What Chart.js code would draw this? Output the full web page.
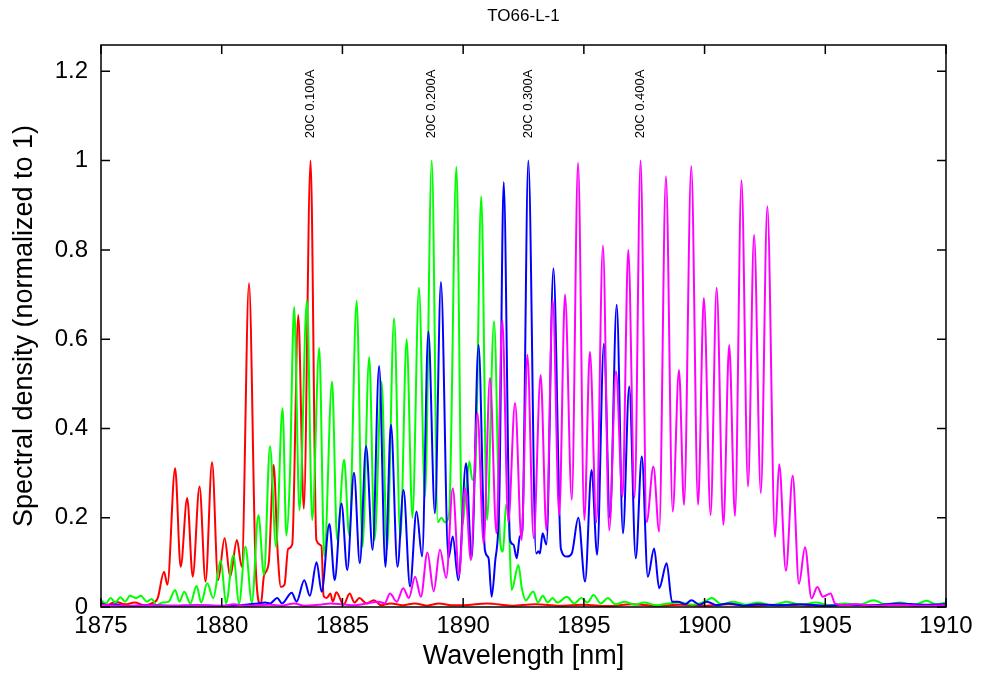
<!DOCTYPE html>
<html>
<head>
<meta charset="utf-8">
<script src="https://cdn.jsdelivr.net/npm/chart.js@4.4.0/dist/chart.umd.min.js"></script>
<style>
  body { margin: 0; background: #fff; }
  #wrap { width: 986px; height: 677px; }
</style>
</head>
<body>
<div id="wrap"><canvas id="chart" width="986" height="677"></canvas></div>
<script>
// Spectra of TO66-L-1 at 20C for four drive currents

const chartTitle = 'TO66-L-1';
const xTicks = [1875, 1880, 1885, 1890, 1895, 1900, 1905, 1910];
const yTicks = [0, 0.2, 0.4, 0.6, 0.8, 1, 1.2];

// peak labels: text and wavelength of the strongest mode
const peakLabels = ['20C 0.100A', '20C 0.200A', '20C 0.300A', '20C 0.400A'];
const peakNm = [1883.68, 1888.68, 1892.7, 1897.35];
const labelLevel = 1.05;

// 0.100 A (red)
const redNm = [1875.0, 1875.3, 1875.6, 1876.0, 1876.4, 1876.8, 1877.1, 1877.35, 1877.61, 1877.75,
  1878.07, 1878.3, 1878.57, 1878.8, 1879.08, 1879.33, 1879.6, 1879.85, 1880.12, 1880.35,
  1880.63, 1880.83, 1881.13, 1881.4, 1881.62, 1881.75, 1881.95, 1882.15, 1882.32, 1882.45,
  1882.6, 1882.75, 1882.92, 1883.17, 1883.4, 1883.68, 1883.92, 1884.13, 1884.22, 1884.35,
  1884.5, 1884.6, 1884.75, 1885.05, 1885.3, 1885.5, 1885.7, 1886.0, 1886.3, 1886.6,
  1887.0, 1887.5, 1888.0, 1888.5, 1889.0, 1889.5, 1890.0, 1891.0, 1892.0, 1893.0,
  1894.0, 1895.0, 1896.0, 1897.0, 1898.0, 1899.0, 1900.0, 1901.0, 1902.0, 1903.0,
  1904.0, 1905.0, 1906.0, 1907.0, 1908.0, 1909.0, 1910.0];
const redVal = [0.012, 0.005, 0.012, 0.006, 0.010, 0.004, 0.008, 0.02, 0.079, 0.05,
  0.311, 0.09, 0.244, 0.068, 0.27, 0.057, 0.324, 0.06, 0.154, 0.068,
  0.15, 0.09, 0.725, 0.1, 0.005, 0.07, 0.1, 0.318, 0.12, 0.045,
  0.05, 0.13, 0.14, 0.654, 0.22, 1.0, 0.15, 0.137, 0.025, 0.02,
  0.03, 0.012, 0.033, 0.005, 0.03, 0.01, 0.02, 0.008, 0.015, 0.004,
  0.008, 0.004, 0.008, 0.003, 0.008, 0.004, 0.004, 0.008, 0.003, 0.006,
  0.003, 0.005, 0.002, 0.006, 0.003, 0.005, 0.003, 0.006, 0.003, 0.005,
  0.004, 0.003, 0.006, 0.003, 0.005, 0.004, 0.006];

// 0.200 A (green)
const greenNm = [1875.0, 1875.2, 1875.4, 1875.6, 1875.8, 1876.0, 1876.2, 1876.45, 1876.65, 1876.9,
  1877.1, 1877.3, 1877.55, 1877.8, 1878.07, 1878.25, 1878.45, 1878.7, 1878.96, 1879.15,
  1879.4, 1879.65, 1879.96, 1880.18, 1880.48, 1880.72, 1880.98, 1881.25, 1881.52, 1881.75,
  1882.0, 1882.25, 1882.52, 1882.68, 1882.82, 1883.0, 1883.22, 1883.53, 1883.75, 1884.04,
  1884.25, 1884.57, 1884.78, 1885.07, 1885.28, 1885.59, 1885.83, 1886.11, 1886.33, 1886.62,
  1886.85, 1887.14, 1887.4, 1887.66, 1887.9, 1888.17, 1888.42, 1888.7, 1888.95, 1889.1,
  1889.25, 1889.42, 1889.72, 1889.96, 1890.1, 1890.26, 1890.38, 1890.5, 1890.75, 1890.99,
  1891.28, 1891.53, 1891.65, 1891.78, 1891.88, 1892.01, 1892.29, 1892.43, 1892.6, 1892.9,
  1893.1, 1893.3, 1893.5, 1893.7, 1893.9, 1894.3, 1894.6, 1894.9, 1895.15, 1895.4,
  1895.7, 1896.0, 1896.3, 1896.7, 1897.1, 1897.5, 1898.0, 1898.5, 1899.0, 1899.5,
  1900.0, 1900.3, 1900.7, 1901.2, 1901.7, 1902.2, 1902.8, 1903.4, 1904.0, 1904.6,
  1905.2, 1905.8, 1906.4, 1907.0, 1907.5, 1908.1, 1908.7, 1909.2, 1909.6, 1910.0];
const greenVal = [0.015, 0.008, 0.02, 0.01, 0.022, 0.012, 0.025, 0.02, 0.025, 0.012,
  0.018, 0.004, 0.01, 0.012, 0.038, 0.012, 0.034, 0.008, 0.047, 0.01,
  0.053, 0.02, 0.105, 0.008, 0.116, 0.008, 0.135, 0.01, 0.206, 0.072,
  0.36, 0.135, 0.445, 0.16, 0.285, 0.672, 0.217, 0.687, 0.195, 0.58,
  0.113, 0.505, 0.15, 0.33, 0.16, 0.686, 0.135, 0.56, 0.15, 0.505,
  0.13, 0.647, 0.154, 0.6, 0.2, 0.715, 0.247, 1.0, 0.19, 0.2,
  0.19, 0.21, 0.986, 0.18, 0.25, 0.326, 0.285, 0.3, 0.92, 0.195,
  0.64, 0.15, 0.124, 0.23, 0.2, 0.038, 0.094, 0.042, 0.015, 0.035,
  0.01, 0.025, 0.01, 0.02, 0.01, 0.023, 0.008, 0.02, 0.01, 0.027,
  0.008, 0.02, 0.006, 0.012, 0.005, 0.01, 0.004, 0.008, 0.01, 0.005,
  0.012, 0.02, 0.006, 0.012, 0.005, 0.01, 0.004, 0.012, 0.005, 0.01,
  0.004, 0.008, 0.005, 0.015, 0.006, 0.01, 0.005, 0.014, 0.006, 0.01];

// 0.300 A (blue)
const blueNm = [1875.0, 1875.3, 1875.6, 1876.0, 1877.0, 1878.0, 1879.0, 1880.0, 1881.0, 1881.5,
  1881.8, 1882.0, 1882.3, 1882.5, 1882.9, 1883.1, 1883.42, 1883.65, 1883.93, 1884.14,
  1884.46, 1884.68, 1884.96, 1885.2, 1885.48, 1885.72, 1885.98, 1886.25, 1886.52, 1886.78,
  1887.01, 1887.28, 1887.53, 1887.8, 1888.07, 1888.3, 1888.56, 1888.83, 1889.08, 1889.39,
  1889.57, 1889.8, 1890.12, 1890.35, 1890.64, 1890.9, 1891.05, 1891.18, 1891.32, 1891.5,
  1891.68, 1891.94, 1892.08, 1892.22, 1892.35, 1892.45, 1892.7, 1893.02, 1893.12, 1893.18,
  1893.29, 1893.45, 1893.74, 1894.05, 1894.3, 1894.5, 1894.77, 1895.05, 1895.32, 1895.55,
  1895.83, 1896.08, 1896.36, 1896.62, 1896.88, 1897.15, 1897.4, 1897.65, 1897.91, 1898.12,
  1898.43, 1898.65, 1898.9, 1899.2, 1899.45, 1899.8, 1900.1, 1900.5, 1901.0, 1901.6,
  1902.2, 1903.0, 1904.0, 1905.0, 1906.0, 1907.0, 1908.0, 1909.0, 1910.0];
const blueVal = [0.008, 0.004, 0.006, 0.002, 0.004, 0.003, 0.004, 0.003, 0.005, 0.008,
  0.01, 0.008, 0.02, 0.008, 0.032, 0.012, 0.06, 0.025, 0.1, 0.034,
  0.186, 0.06, 0.232, 0.083, 0.301, 0.098, 0.36, 0.128, 0.54, 0.09,
  0.408, 0.09, 0.262, 0.046, 0.214, 0.113, 0.617, 0.21, 0.728, 0.109,
  0.158, 0.06, 0.322, 0.109, 0.587, 0.128, 0.11, 0.023, 0.098, 0.25,
  0.952, 0.15, 0.14, 0.109, 0.158, 0.17, 1.0, 0.12, 0.125, 0.12,
  0.165, 0.14, 0.759, 0.13, 0.113, 0.12, 0.2, 0.057, 0.307, 0.117,
  0.59, 0.2, 0.677, 0.165, 0.494, 0.109, 0.337, 0.068, 0.131, 0.042,
  0.098, 0.012, 0.012, 0.006, 0.015, 0.005, 0.012, 0.004, 0.008, 0.003,
  0.006, 0.004, 0.006, 0.003, 0.005, 0.004, 0.008, 0.005, 0.006];

// 0.400 A (magenta)
const magentaNm = [1875.0, 1876.0, 1877.0, 1878.0, 1879.0, 1880.0, 1880.5, 1881.0, 1882.0, 1882.5,
  1883.0, 1883.4, 1884.0, 1884.5, 1885.0, 1885.5, 1886.0, 1886.5, 1886.75, 1886.97,
  1887.25, 1887.52, 1887.75, 1888.01, 1888.25, 1888.52, 1888.78, 1889.04, 1889.3, 1889.57,
  1889.83, 1890.08, 1890.32, 1890.59, 1890.85, 1891.11, 1891.38, 1891.62, 1891.87, 1892.15,
  1892.42, 1892.66, 1892.92, 1893.21, 1893.45, 1893.71, 1893.98, 1894.22, 1894.5, 1894.76,
  1895.02, 1895.25, 1895.52, 1895.79, 1896.05, 1896.33, 1896.6, 1896.84, 1897.1, 1897.35,
  1897.6, 1897.88, 1898.12, 1898.4, 1898.68, 1898.94, 1899.15, 1899.45, 1899.73, 1899.97,
  1900.25, 1900.5, 1900.78, 1901.02, 1901.26, 1901.53, 1901.8, 1902.05, 1902.33, 1902.6,
  1902.92, 1903.09, 1903.37, 1903.65, 1903.91, 1904.16, 1904.43, 1904.67, 1904.9, 1905.22,
  1905.4, 1905.8, 1906.3, 1907.0, 1908.0, 1909.0, 1910.0];
const magentaVal = [0.005, 0.003, 0.004, 0.003, 0.004, 0.002, 0.006, 0.003, 0.005, 0.003,
  0.008, 0.003, 0.005, 0.008, 0.006, 0.004, 0.008, 0.012, 0.008, 0.03,
  0.012, 0.042, 0.02, 0.068, 0.023, 0.122, 0.035, 0.128, 0.065, 0.266,
  0.072, 0.266, 0.105, 0.434, 0.143, 0.513, 0.165, 0.643, 0.19, 0.457,
  0.15, 0.565, 0.154, 0.52, 0.172, 0.688, 0.206, 0.7, 0.24, 0.995,
  0.195, 0.572, 0.19, 0.81, 0.172, 0.528, 0.247, 0.8, 0.244, 1.0,
  0.19, 0.315, 0.169, 0.965, 0.214, 0.531, 0.229, 0.988, 0.229, 0.692,
  0.206, 0.715, 0.184, 0.587, 0.204, 0.956, 0.27, 0.834, 0.255, 0.898,
  0.157, 0.32, 0.081, 0.294, 0.052, 0.134, 0.019, 0.045, 0.023, 0.03,
  0.008, 0.004, 0.006, 0.003, 0.005, 0.003, 0.004];

function toPoints(xs, ys) {
  return xs.map((x, i) => ({ x: x, y: ys[i] }));
}

const fontName = '"Liberation Sans", Arial, sans-serif';

// frame with inward ticks, rotated peak labels and the title
const framePlugin = {
  id: 'framePlugin',
  afterDatasetsDraw(chart) {
    const ctx = chart.ctx;
    const a = chart.chartArea;
    const xs = chart.scales.x;
    const ys = chart.scales.y;
    ctx.save();
    ctx.strokeStyle = '#000';
    ctx.lineWidth = 1.5;
    ctx.strokeRect(a.left, a.top, a.right - a.left, a.bottom - a.top);
    ctx.beginPath();
    xTicks.forEach(v => {
      const px = xs.getPixelForValue(v);
      ctx.moveTo(px, a.bottom); ctx.lineTo(px, a.bottom - 9);
      ctx.moveTo(px, a.top); ctx.lineTo(px, a.top + 9);
    });
    yTicks.forEach(v => {
      const py = ys.getPixelForValue(v);
      ctx.moveTo(a.left, py); ctx.lineTo(a.left + 9, py);
      ctx.moveTo(a.right, py); ctx.lineTo(a.right - 9, py);
    });
    ctx.stroke();

    ctx.fillStyle = '#000';
    ctx.font = '13px ' + fontName;
    ctx.textAlign = 'left';
    ctx.textBaseline = 'middle';
    peakLabels.forEach((txt, i) => {
      ctx.save();
      ctx.translate(xs.getPixelForValue(peakNm[i]), ys.getPixelForValue(labelLevel));
      ctx.rotate(-Math.PI / 2);
      ctx.fillText(txt, 0, 0);
      ctx.restore();
    });

    ctx.font = '17px ' + fontName;
    ctx.textAlign = 'center';
    ctx.fillText(chartTitle, (a.left + a.right) / 2, 16);
    ctx.restore();
  }
};

const lineStyle = { borderWidth: 2, pointRadius: 0, fill: false, cubicInterpolationMode: 'monotone' };

new Chart(document.getElementById('chart'), {
  type: 'line',
  data: {
    datasets: [
      Object.assign({ label: '20C 0.100A', data: toPoints(redNm, redVal), borderColor: '#ff0000', order: 4 }, lineStyle),
      Object.assign({ label: '20C 0.200A', data: toPoints(greenNm, greenVal), borderColor: '#00ff00', order: 3 }, lineStyle),
      Object.assign({ label: '20C 0.300A', data: toPoints(blueNm, blueVal), borderColor: '#0000ff', order: 2 }, lineStyle),
      Object.assign({ label: '20C 0.400A', data: toPoints(magentaNm, magentaVal), borderColor: '#ff00ff', order: 1 }, lineStyle)
    ]
  },
  options: {
    responsive: false,
    animation: false,
    layout: { padding: { top: 45, right: 40, left: 0, bottom: 0 } },
    plugins: { legend: { display: false }, tooltip: { enabled: false }, title: { display: false } },
    scales: {
      x: {
        type: 'linear',
        min: 1875,
        max: 1910,
        afterBuildTicks: s => { s.ticks = xTicks.map(v => ({ value: v })); },
        afterFit: s => { s.height = 70; },
        grid: { display: false, drawTicks: false },
        border: { display: false },
        ticks: { color: '#000', font: { family: fontName, size: 24 }, padding: 5, maxRotation: 0, autoSkip: false, callback: v => String(v) },
        title: { display: true, text: 'Wavelength [nm]', color: '#000', font: { family: fontName, size: 27 }, padding: { top: 0, bottom: 4 } }
      },
      y: {
        min: 0,
        max: 1.259,
        afterBuildTicks: s => { s.ticks = yTicks.map(v => ({ value: v })); },
        afterFit: s => { s.width = 101; },
        grid: { display: false, drawTicks: false },
        border: { display: false },
        ticks: { color: '#000', font: { family: fontName, size: 24 }, padding: 13, callback: v => String(+v.toFixed(1)) },
        title: { display: true, text: 'Spectral density (normalized to 1)', color: '#000', font: { family: fontName, size: 27 }, padding: { top: 8, bottom: 0 } }
      }
    }
  },
  plugins: [framePlugin]
});
</script>
</body>
</html>
